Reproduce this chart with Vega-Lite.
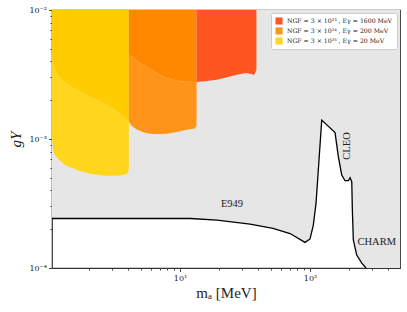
{
  "$schema": "https://vega.github.io/schema/vega-lite/v6.json",
  "width": 348,
  "height": 258,
  "autosize": "none",
  "padding": {"left": 52, "top": 10, "right": 7, "bottom": 44},
  "background": "white",
  "config": {
    "view": {"stroke": "#333", "strokeWidth": 1.2},
    "font": "Liberation Serif",
    "axis": {"labelFont": "DejaVu Serif", "titleFont": "Liberation Serif", "labelColor": "#222", "titleColor": "#222", "tickColor": "#444", "domain": false, "grid": false, "titleFontWeight": "normal"}
  },
  "datasets": {
    "limit": [
      {"x": 1.036, "y": 0.000242, "k": "c"},
      {"x": 12, "y": 0.000242, "k": "c"},
      {"x": 19.3, "y": 0.000235, "k": "c"},
      {"x": 34.6, "y": 0.000219, "k": "c"},
      {"x": 51.9, "y": 0.000203, "k": "c"},
      {"x": 70.2, "y": 0.000185, "k": "c"},
      {"x": 91.5, "y": 0.000158, "k": "c"},
      {"x": 100, "y": 0.000168, "k": "c"},
      {"x": 106, "y": 0.000215, "k": "c"},
      {"x": 111.2, "y": 0.000318, "k": "c"},
      {"x": 115.8, "y": 0.000575, "k": "c"},
      {"x": 123, "y": 0.0014, "k": "c"},
      {"x": 155.7, "y": 0.00112, "k": "c"},
      {"x": 165.1, "y": 0.000729, "k": "c"},
      {"x": 175.3, "y": 0.000526, "k": "c"},
      {"x": 185.9, "y": 0.000475, "k": "c"},
      {"x": 197.1, "y": 0.000475, "k": "c"},
      {"x": 203.1, "y": 0.000501, "k": "c"},
      {"x": 209.4, "y": 0.000467, "k": "c"},
      {"x": 211.6, "y": 0.000282, "k": "c"},
      {"x": 215.3, "y": 0.000165, "k": "c"},
      {"x": 228.6, "y": 0.000126, "k": "c"},
      {"x": 249.9, "y": 0.000109, "k": "c"},
      {"x": 269.7, "y": 0.0001, "k": "c"},
      {"x": 280, "y": 0.0001, "k": "f"},
      {"x": 495, "y": 0.0001, "k": "f"}
    ],
    "regions": [
      {"region": "r20", "x": 1.036, "y": 0.00102, "y2": 0.0043},
      {"region": "r20", "x": 1.064, "y": 0.00079, "y2": 0.0037},
      {"region": "r20", "x": 1.10, "y": 0.00074, "y2": 0.0034},
      {"region": "r20", "x": 1.19, "y": 0.00068, "y2": 0.00297},
      {"region": "r20", "x": 1.30, "y": 0.00063, "y2": 0.00275},
      {"region": "r20", "x": 1.43, "y": 0.000605, "y2": 0.00258},
      {"region": "r20", "x": 1.70, "y": 0.000565, "y2": 0.00235},
      {"region": "r20", "x": 1.93, "y": 0.000545, "y2": 0.00219},
      {"region": "r20", "x": 2.10, "y": 0.000535, "y2": 0.0021},
      {"region": "r20", "x": 2.42, "y": 0.000525, "y2": 0.00197},
      {"region": "r20", "x": 2.65, "y": 0.00052, "y2": 0.00187},
      {"region": "r20", "x": 2.89, "y": 0.00052, "y2": 0.00177},
      {"region": "r20", "x": 3.2, "y": 0.00052, "y2": 0.00166},
      {"region": "r20", "x": 3.46, "y": 0.000522, "y2": 0.00156},
      {"region": "r20", "x": 3.91, "y": 0.000535, "y2": 0.00142},
      {"region": "r20", "x": 4.04, "y": 0.00058, "y2": 0.00138},
      {"region": "o20", "x": 1.036, "y": 0.0043, "y2": 0.01},
      {"region": "o20", "x": 1.064, "y": 0.0037, "y2": 0.01},
      {"region": "o20", "x": 1.10, "y": 0.0034, "y2": 0.01},
      {"region": "o20", "x": 1.19, "y": 0.00297, "y2": 0.01},
      {"region": "o20", "x": 1.30, "y": 0.00275, "y2": 0.01},
      {"region": "o20", "x": 1.43, "y": 0.00258, "y2": 0.01},
      {"region": "o20", "x": 1.70, "y": 0.00235, "y2": 0.01},
      {"region": "o20", "x": 1.93, "y": 0.00219, "y2": 0.01},
      {"region": "o20", "x": 2.10, "y": 0.0021, "y2": 0.01},
      {"region": "o20", "x": 2.42, "y": 0.00197, "y2": 0.01},
      {"region": "o20", "x": 2.65, "y": 0.00187, "y2": 0.01},
      {"region": "o20", "x": 2.89, "y": 0.00177, "y2": 0.01},
      {"region": "o20", "x": 3.2, "y": 0.00166, "y2": 0.01},
      {"region": "o20", "x": 3.46, "y": 0.00156, "y2": 0.01},
      {"region": "o20", "x": 3.91, "y": 0.00142, "y2": 0.01},
      {"region": "o20", "x": 4.04, "y": 0.00138, "y2": 0.01},
      {"region": "r200", "x": 4.04, "y": 0.00136, "y2": 0.0045},
      {"region": "r200", "x": 4.27, "y": 0.00126, "y2": 0.00435},
      {"region": "r200", "x": 4.51, "y": 0.00121, "y2": 0.00417},
      {"region": "r200", "x": 4.67, "y": 0.001185, "y2": 0.00405},
      {"region": "r200", "x": 5.10, "y": 0.00114, "y2": 0.00381},
      {"region": "r200", "x": 5.38, "y": 0.00112, "y2": 0.0037},
      {"region": "r200", "x": 5.88, "y": 0.0011, "y2": 0.00349},
      {"region": "r200", "x": 6.42, "y": 0.001093, "y2": 0.0033},
      {"region": "r200", "x": 7.02, "y": 0.001095, "y2": 0.00313},
      {"region": "r200", "x": 7.94, "y": 0.0011, "y2": 0.00297},
      {"region": "r200", "x": 8.38, "y": 0.00111, "y2": 0.00292},
      {"region": "r200", "x": 9.65, "y": 0.00114, "y2": 0.00282},
      {"region": "r200", "x": 10.0, "y": 0.00115, "y2": 0.00279},
      {"region": "r200", "x": 11.52, "y": 0.001185, "y2": 0.00278},
      {"region": "r200", "x": 13.04, "y": 0.001205, "y2": 0.00277},
      {"region": "r200", "x": 13.4, "y": 0.00128, "y2": 0.00277},
      {"region": "o200", "x": 4.04, "y": 0.0045, "y2": 0.01},
      {"region": "o200", "x": 4.27, "y": 0.00435, "y2": 0.01},
      {"region": "o200", "x": 4.51, "y": 0.00417, "y2": 0.01},
      {"region": "o200", "x": 4.67, "y": 0.00405, "y2": 0.01},
      {"region": "o200", "x": 5.10, "y": 0.00381, "y2": 0.01},
      {"region": "o200", "x": 5.38, "y": 0.0037, "y2": 0.01},
      {"region": "o200", "x": 5.88, "y": 0.00349, "y2": 0.01},
      {"region": "o200", "x": 6.42, "y": 0.0033, "y2": 0.01},
      {"region": "o200", "x": 7.02, "y": 0.00313, "y2": 0.01},
      {"region": "o200", "x": 7.94, "y": 0.00297, "y2": 0.01},
      {"region": "o200", "x": 8.38, "y": 0.00292, "y2": 0.01},
      {"region": "o200", "x": 9.65, "y": 0.00282, "y2": 0.01},
      {"region": "o200", "x": 10.0, "y": 0.00279, "y2": 0.01},
      {"region": "o200", "x": 11.52, "y": 0.00278, "y2": 0.01},
      {"region": "o200", "x": 13.04, "y": 0.00277, "y2": 0.01},
      {"region": "o200", "x": 13.4, "y": 0.00277, "y2": 0.01},
      {"region": "r1600", "x": 13.4, "y": 0.00277, "y2": 0.01},
      {"region": "r1600", "x": 16.1, "y": 0.00282, "y2": 0.01},
      {"region": "r1600", "x": 19.6, "y": 0.00289, "y2": 0.01},
      {"region": "r1600", "x": 23.4, "y": 0.00303, "y2": 0.01},
      {"region": "r1600", "x": 27.9, "y": 0.00316, "y2": 0.01},
      {"region": "r1600", "x": 32.2, "y": 0.00325, "y2": 0.01},
      {"region": "r1600", "x": 35.2, "y": 0.00319, "y2": 0.01},
      {"region": "r1600", "x": 37.1, "y": 0.00313, "y2": 0.01},
      {"region": "r1600", "x": 38.7, "y": 0.00343, "y2": 0.01}
    ],
    "labels": [
      {"x": 25.1, "y": 0.000313, "text": "E949"},
      {"x": 326, "y": 0.000158, "text": "CHARM"}
    ],
    "vlabels": [
      {"x": 194, "y": 0.000883, "text": "CLEO"}
    ]
  },
  "layer": [
    {
      "data": {"name": "limit"},
      "mark": {"type": "area", "color": "#e6e6e6", "clip": true},
      "encoding": {
        "x": {"field": "x", "type": "quantitative", "scale": {"type": "log", "domain": [1.036, 492], "nice": false},
          "axis": {"orient": "bottom", "values": [2,3,4,5,6,7,8,9,20,30,40,50,60,70,80,90,200,300,400], "labels": false, "tickSize": 2, "title": null}},
        "y": {"field": "y", "type": "quantitative", "scale": {"type": "log", "domain": [0.0001, 0.01], "nice": false},
          "axis": {"orient": "left", "values": [0.0002,0.0003,0.0004,0.0005,0.0006,0.0007,0.0008,0.0009,0.002,0.003,0.004,0.005,0.006,0.007,0.008,0.009], "labels": false, "tickSize": 2, "title": null}},
        "y2": {"datum": 0.01}
      }
    },
    {
      "data": {"name": "regions"},
      "mark": {"type": "area", "clip": true, "opacity": 1},
      "encoding": {
        "x": {"field": "x", "type": "quantitative", "scale": {"type": "log", "domain": [1.036, 492], "nice": false},
          "axis": {"orient": "bottom", "values": [10, 100], "tickSize": 3.5, "labelFontSize": 8, "labelPadding": 3,
            "labelExpr": "datum.value == 10 ? '10¹' : '10²'", "title": "mₐ [MeV]", "titleFontSize": 15, "titlePadding": 3}},
        "y": {"field": "y", "type": "quantitative", "scale": {"type": "log", "domain": [0.0001, 0.01], "nice": false},
          "axis": {"orient": "left", "values": [0.0001, 0.001, 0.01], "tickSize": 3.5, "labelFontSize": 8, "labelPadding": 2,
            "labelExpr": "datum.value < 0.0005 ? '10⁻⁴' : datum.value < 0.005 ? '10⁻³' : '10⁻²'", "title": "gY", "titleFontSize": 15, "titleFontStyle": "italic", "titlePadding": 5}},
        "y2": {"field": "y2"},
        "color": {"field": "region", "type": "nominal",
          "scale": {"domain": ["r1600", "r200", "r20", "o200", "o20"], "range": ["#ff5520", "#ff9418", "#ffd51e", "#ff8800", "#ffcc00"]},
          "legend": {"values": ["r1600", "r200", "r20"], "orient": "top-right", "offset": 3, "title": null,
            "fillColor": "white", "strokeColor": "#cccccc", "cornerRadius": 2, "padding": 4,
            "symbolType": "square", "symbolSize": 50, "symbolStrokeWidth": 0, "labelFont": "DejaVu Serif", "labelFontSize": 6.2, "labelColor": "#222", "rowPadding": 2,
            "labelExpr": "datum.value == 'r1600' ? 'NGF = 3 × 10²³ , Eγ = 1600 MeV' : datum.value == 'r200' ? 'NGF = 3 × 10²⁴ , Eγ = 200 MeV' : 'NGF = 3 × 10²⁵ , Eγ = 20 MeV'"}
        }
      }
    },
    {
      "data": {"name": "limit"},
      "transform": [{"filter": "datum.k == 'c'"}],
      "mark": {"type": "line", "color": "black", "strokeWidth": 1.3, "clip": true},
      "encoding": {
        "x": {"field": "x", "type": "quantitative", "scale": {"type": "log", "domain": [1.036, 492], "nice": false}, "axis": null},
        "y": {"field": "y", "type": "quantitative", "scale": {"type": "log", "domain": [0.0001, 0.01], "nice": false}, "axis": null}
      }
    },
    {
      "data": {"name": "labels"},
      "mark": {"type": "text", "font": "Liberation Serif", "fontSize": 10.5, "color": "#222", "align": "center", "baseline": "middle"},
      "encoding": {
        "x": {"field": "x", "type": "quantitative", "scale": {"type": "log", "domain": [1.036, 492], "nice": false}, "axis": null},
        "y": {"field": "y", "type": "quantitative", "scale": {"type": "log", "domain": [0.0001, 0.01], "nice": false}, "axis": null},
        "text": {"field": "text"}
      }
    },
    {
      "data": {"name": "vlabels"},
      "mark": {"type": "text", "font": "Liberation Serif", "fontSize": 10.5, "color": "#222", "align": "center", "baseline": "middle", "angle": 270},
      "encoding": {
        "x": {"field": "x", "type": "quantitative", "scale": {"type": "log", "domain": [1.036, 492], "nice": false}, "axis": null},
        "y": {"field": "y", "type": "quantitative", "scale": {"type": "log", "domain": [0.0001, 0.01], "nice": false}, "axis": null},
        "text": {"field": "text"}
      }
    }
  ],
  "resolve": {"axis": {"x": "independent", "y": "independent"}}
}
